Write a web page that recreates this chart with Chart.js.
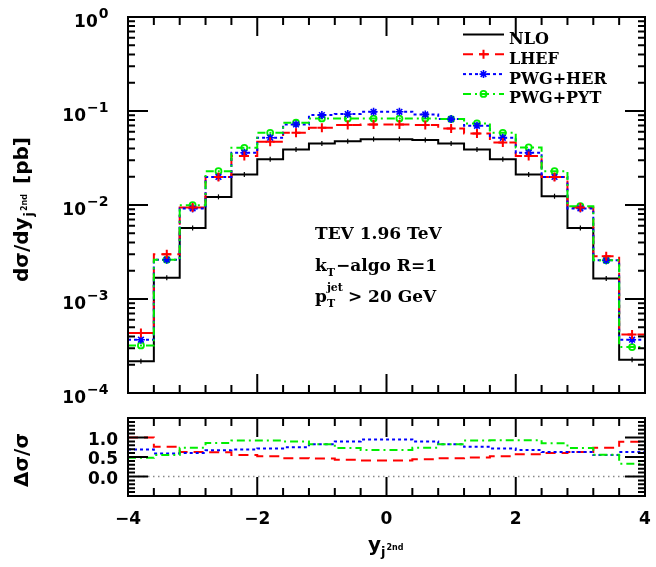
<!DOCTYPE html>
<html>
<head>
<meta charset="utf-8">
<script src="https://cdn.jsdelivr.net/npm/chart.js@4/dist/chart.umd.min.js"></script>
<style>
html,body{margin:0;padding:0;background:#fff;}
#wrap{position:relative;width:656px;height:567px;}
canvas{position:absolute;left:0;}
#c1{top:0;}
#c2{top:410px;}
</style>
</head>
<body>
<div id="wrap">
<canvas id="c1" width="656" height="410"></canvas>
<canvas id="c2" width="656" height="157"></canvas>
</div>
<script>
// ---------------- data ----------------
const binEdges = [-4,-3.6,-3.2,-2.8,-2.4,-2,-1.6,-1.2,-0.8,-0.4,0,0.4,0.8,1.2,1.6,2,2.4,2.8,3.2,3.6,4];
const nlo    = [2.17e-4,1.68e-3,5.7e-3,0.0122,0.0211,0.0307,0.039,0.0452,0.0478,0.0502,0.0502,0.049,0.045,0.039,0.0307,0.0211,0.0124,0.0057,1.65e-3,2.26e-4];
const lhef   = [4.35e-4,2.99e-3,9.4e-3,0.0199,0.0333,0.047,0.0586,0.0662,0.0708,0.072,0.072,0.071,0.065,0.0577,0.0463,0.0333,0.0199,0.0094,2.85e-3,4.2e-4];
const pwgHer = [3.69e-4,2.62e-3,9.2e-3,0.0199,0.0359,0.0519,0.072,0.0904,0.0927,0.098,0.098,0.092,0.082,0.0697,0.0519,0.0359,0.0199,0.0092,2.58e-3,3.69e-4];
const pwgPyt = [3.21e-4,2.62e-3,9.95e-3,0.0229,0.0406,0.0586,0.075,0.0834,0.0834,0.083,0.083,0.083,0.082,0.0738,0.0586,0.041,0.0229,0.0097,2.58e-3,3.08e-4];
// relative differences (lower panel)
const dLhef  = [1.0,0.76,0.63,0.62,0.55,0.52,0.47,0.46,0.43,0.41,0.41,0.44,0.47,0.49,0.52,0.57,0.60,0.63,0.74,0.89];
const dHer   = [0.69,0.59,0.60,0.67,0.69,0.72,0.75,0.83,0.90,0.95,0.95,0.90,0.83,0.76,0.72,0.68,0.63,0.63,0.55,0.63];
const dPyt   = [0.48,0.55,0.74,0.86,0.92,0.92,0.90,0.83,0.73,0.68,0.68,0.74,0.83,0.92,0.93,0.93,0.85,0.73,0.56,0.33];
const seriesNames = ['NLO','LHEF','PWG+HER','PWG+PYT'];
const xTickLabels = [-4,-2,0,2,4];
const logTickExps = [0,-1,-2,-3,-4];
const ratioTickLabels = [0.0,0.5,1.0];
// -------------------------------------------------------------

const SANS = 'DejaVu Sans';
const SERIF = 'DejaVu Serif';

const styles = [
  {color:'#000000', dash:[],          point:'line',     radius:2.5, rot:90, pbw:1.2, order:4},
  {color:'#ff0000', dash:[10,6],      point:'cross',    radius:4.5, rot:0,  pbw:2,   order:3},
  {color:'#0000ff', dash:[3,3],       point:'star',     radius:4,   rot:0,  pbw:1.6, order:2},
  {color:'#00ee00', dash:[8,4,2,4],   point:'circle',   radius:3,   rot:0,  pbw:1.8, order:1}
];

function stepData(vals){ return binEdges.map((e,i)=>({x:e, y:vals[Math.max(0, i-1)]})); }
function centerData(vals){ return vals.map((v,i)=>({x:(binEdges[i]+binEdges[i+1])/2, y:v})); }

function lineDs(vals, st){
  // point i sits at edge i; segment (i-1 -> i) drawn horizontally at vals[i-1]
  return {data:stepData(vals), stepped:'after', borderColor:st.color, borderDash:st.dash,
          borderWidth:2, pointRadius:0, fill:false, order:st.order};
}
function markDs(vals, st){
  return {data:centerData(vals), showLine:false, pointStyle:st.point, pointRadius:st.radius,
          pointRotation:st.rot, borderColor:st.color, backgroundColor:'rgba(0,0,0,0)',
          pointBorderColor:st.color, pointBackgroundColor:'rgba(0,0,0,0)', pointBorderWidth:st.pbw, order:0};
}

function drawTicks(chart, yMajors, yMinors, majLen, minLen){
  const {ctx, chartArea:a, scales:{x,y}} = chart;
  ctx.save();
  ctx.strokeStyle='#000'; ctx.lineWidth=2; ctx.setLineDash([]);
  ctx.beginPath();
  for(let v=-4; v<=4.0001; v+=0.4){
    const px = x.getPixelForValue(v);
    const isMaj = xTickLabels.some(t=>Math.abs(t-v)<1e-6);
    const L = isMaj?majLen:minLen;
    ctx.moveTo(px,a.bottom); ctx.lineTo(px,a.bottom-L);
    ctx.moveTo(px,a.top); ctx.lineTo(px,a.top+L);
  }
  yMajors.forEach(v=>{ const py=y.getPixelForValue(v);
    ctx.moveTo(a.left,py); ctx.lineTo(a.left+20,py);
    ctx.moveTo(a.right,py); ctx.lineTo(a.right-20,py); });
  yMinors.forEach(v=>{ const py=y.getPixelForValue(v);
    ctx.moveTo(a.left,py); ctx.lineTo(a.left+7,py);
    ctx.moveTo(a.right,py); ctx.lineTo(a.right-7,py); });
  ctx.stroke();
  ctx.strokeRect(a.left,a.top,a.right-a.left,a.bottom-a.top);
  ctx.restore();
}

function drawMarker(ctx, st, cx, cy){
  ctx.save();
  ctx.strokeStyle=st.color; ctx.lineWidth=st.pbw; ctx.setLineDash([]);
  ctx.beginPath();
  const r=st.radius;
  if(st.point==='line'){ ctx.moveTo(cx,cy-r); ctx.lineTo(cx,cy+r); }
  else if(st.point==='cross'){ ctx.moveTo(cx-r,cy); ctx.lineTo(cx+r,cy); ctx.moveTo(cx,cy-r); ctx.lineTo(cx,cy+r); }
  else if(st.point==='star'){ ctx.moveTo(cx-r,cy); ctx.lineTo(cx+r,cy); ctx.moveTo(cx,cy-r); ctx.lineTo(cx,cy+r);
    const d=r*0.707; ctx.moveTo(cx-d,cy-d); ctx.lineTo(cx+d,cy+d); ctx.moveTo(cx-d,cy+d); ctx.lineTo(cx+d,cy-d); }
  else { ctx.arc(cx,cy,r,0,Math.PI*2); }
  ctx.stroke();
  ctx.restore();
}

const mainPlugin = {
  id:'mainDecor',
  afterDraw(chart){
    const {ctx, chartArea:a, scales:{x,y}} = chart;
    const majors = logTickExps.map(e=>Math.pow(10,e));
    const minors = [];
    for(let e=-4; e<0; e++) for(let m=2;m<=9;m++) minors.push(m*Math.pow(10,e));
    drawTicks(chart, majors, minors, 19, 8);
    ctx.save();
    ctx.fillStyle='#000';
    logTickExps.forEach(e=>{
      const py = y.getPixelForValue(Math.pow(10,e));
      const expTxt = e===0?'0':'\u2212'+Math.abs(e);
      ctx.font='bold 14px "'+SANS+'"';
      const ew = ctx.measureText(expTxt).width;
      ctx.textAlign='left'; ctx.textBaseline='alphabetic';
      ctx.fillText(expTxt, 108.5-ew, py+1);
      ctx.font='bold 17px "'+SANS+'"';
      const bw = ctx.measureText('10').width;
      ctx.fillText('10', 108.5-ew-1-bw, py+9.5);
    });
    ctx.save();
    ctx.translate(28, 282);
    ctx.rotate(-Math.PI/2);
    ctx.textAlign='left'; ctx.textBaseline='alphabetic';
    let cx=0;
    ctx.font='bold 20px "'+SANS+'"';
    ctx.fillText('d\u03c3/dy',cx,0); cx+=ctx.measureText('d\u03c3/dy').width+1;
    ctx.font='bold 13px "'+SANS+'"';
    ctx.fillText('j',cx,5); cx+=ctx.measureText('j').width+1;
    ctx.font='bold 8px "'+SANS+'"';
    ctx.fillText('2nd',cx,-1); cx+=ctx.measureText('2nd').width+10;
    ctx.font='bold 20px "'+SANS+'"';
    ctx.fillText('[pb]',cx,0);
    ctx.restore();
    const lx0=463, lx1=504, tx=509;
    styles.forEach((st,i)=>{
      const base = 44 + i*19.8;
      const ly = base-9.5;
      ctx.save();
      ctx.strokeStyle=st.color; ctx.lineWidth=2; ctx.setLineDash(st.dash);
      ctx.beginPath(); ctx.moveTo(lx0,ly); ctx.lineTo(lx1,ly); ctx.stroke();
      ctx.restore();
      if(i>0) drawMarker(ctx, st, (lx0+lx1)/2, ly);
      ctx.fillStyle='#000';
      ctx.font='bold 16px "'+SERIF+'"';
      ctx.textAlign='left'; ctx.textBaseline='alphabetic';
      ctx.fillText(seriesNames[i], tx, base);
    });
    ctx.font='bold 17px "'+SERIF+'"';
    ctx.fillText('TEV 1.96 TeV', 315, 239);
    let ax=315;
    ctx.fillText('k',ax,271); ax+=ctx.measureText('k').width;
    ctx.font='bold 11px "'+SERIF+'"'; ctx.fillText('T',ax,276); ax+=ctx.measureText('T').width+1;
    ctx.font='bold 17px "'+SERIF+'"'; ctx.fillText('\u2212algo R=1',ax,271);
    ax=315;
    ctx.fillText('p',ax,302); ax+=ctx.measureText('p').width;
    ctx.font='bold 11px "'+SERIF+'"'; ctx.fillText('T',ax,307);
    ctx.fillText('jet',ax,291); ax+=ctx.measureText('jet').width+5;
    ctx.font='bold 17px "'+SERIF+'"'; ctx.fillText('> 20 GeV',ax,302);
    ctx.restore();
  }
};

const ratioPlugin = {
  id:'ratioDecor',
  beforeDatasetsDraw(chart){
    const {ctx, chartArea:a, scales:{y}} = chart;
    const py=y.getPixelForValue(0);
    ctx.save();
    ctx.strokeStyle='#888'; ctx.lineWidth=1.5; ctx.setLineDash([1.5,3.5]);
    ctx.beginPath(); ctx.moveTo(a.left,py); ctx.lineTo(a.right,py); ctx.stroke();
    ctx.restore();
  },
  afterDraw(chart){
    const {ctx, chartArea:a, scales:{x,y}} = chart;
    const minors=[];
    for(let k=-5;k<=15;k++){ const v=k/10; if(k%5!==0) minors.push(v); }
    drawTicks(chart, ratioTickLabels, minors, 19, 8);
    ctx.save();
    ctx.fillStyle='#000';
    ctx.font='bold 17px "'+SANS+'"';
    ctx.textAlign='right'; ctx.textBaseline='alphabetic';
    ratioTickLabels.forEach(v=>{ ctx.fillText(v.toFixed(1), 118, y.getPixelForValue(v)+7); });
    ctx.textAlign='center';
    xTickLabels.forEach(v=>{ const s = v<0?'\u2212'+Math.abs(v):String(v); ctx.fillText(s, x.getPixelForValue(v), 114); });
    ctx.save();
    ctx.translate(28, 50); ctx.rotate(-Math.PI/2);
    ctx.font='bold 20px "'+SANS+'"'; ctx.textAlign='center';
    ctx.fillText('\u0394\u03c3/\u03c3',0,0);
    ctx.restore();
    ctx.textAlign='left';
    let cx=368;
    ctx.font='bold 20px "'+SANS+'"'; ctx.fillText('y',cx,141); cx+=ctx.measureText('y').width;
    ctx.font='bold 13px "'+SANS+'"'; ctx.fillText('j',cx,146); cx+=ctx.measureText('j').width+1;
    ctx.font='bold 8px "'+SANS+'"'; ctx.fillText('2nd',cx,140);
    ctx.restore();
  }
};

function xScale(h){
  return {type:'linear', min:-4, max:4, grid:{display:false}, border:{display:false},
          ticks:{display:false}, afterFit:s=>{s.height=h;}};
}

new Chart(document.getElementById('c1'), {
  type:'line',
  data:{datasets:[
    lineDs(nlo,styles[0]), lineDs(lhef,styles[1]), lineDs(pwgHer,styles[2]), lineDs(pwgPyt,styles[3]),
    markDs(nlo,styles[0]), markDs(lhef,styles[1]), markDs(pwgHer,styles[2]), markDs(pwgPyt,styles[3])
  ]},
  options:{
    responsive:false, animation:false, devicePixelRatio:1,
    layout:{padding:{left:0,right:11,top:17,bottom:0}},
    plugins:{legend:{display:false}, tooltip:{enabled:false}},
    scales:{
      x:xScale(17),
      y:{type:'logarithmic', min:1e-4, max:1, grid:{display:false}, border:{display:false},
         ticks:{display:false}, afterFit:s=>{s.width=128;}}
    }
  },
  plugins:[mainPlugin]
});

new Chart(document.getElementById('c2'), {
  type:'line',
  data:{datasets:[
    lineDs(dLhef,styles[1]), lineDs(dHer,styles[2]), lineDs(dPyt,styles[3])
  ]},
  options:{
    responsive:false, animation:false, devicePixelRatio:1,
    layout:{padding:{left:0,right:11,top:8,bottom:0}},
    plugins:{legend:{display:false}, tooltip:{enabled:false}},
    scales:{
      x:xScale(71),
      y:{type:'linear', min:-0.5, max:1.5, grid:{display:false}, border:{display:false},
         ticks:{display:false}, afterFit:s=>{s.width=128;}}
    }
  },
  plugins:[ratioPlugin]
});
</script>
</body>
</html>
